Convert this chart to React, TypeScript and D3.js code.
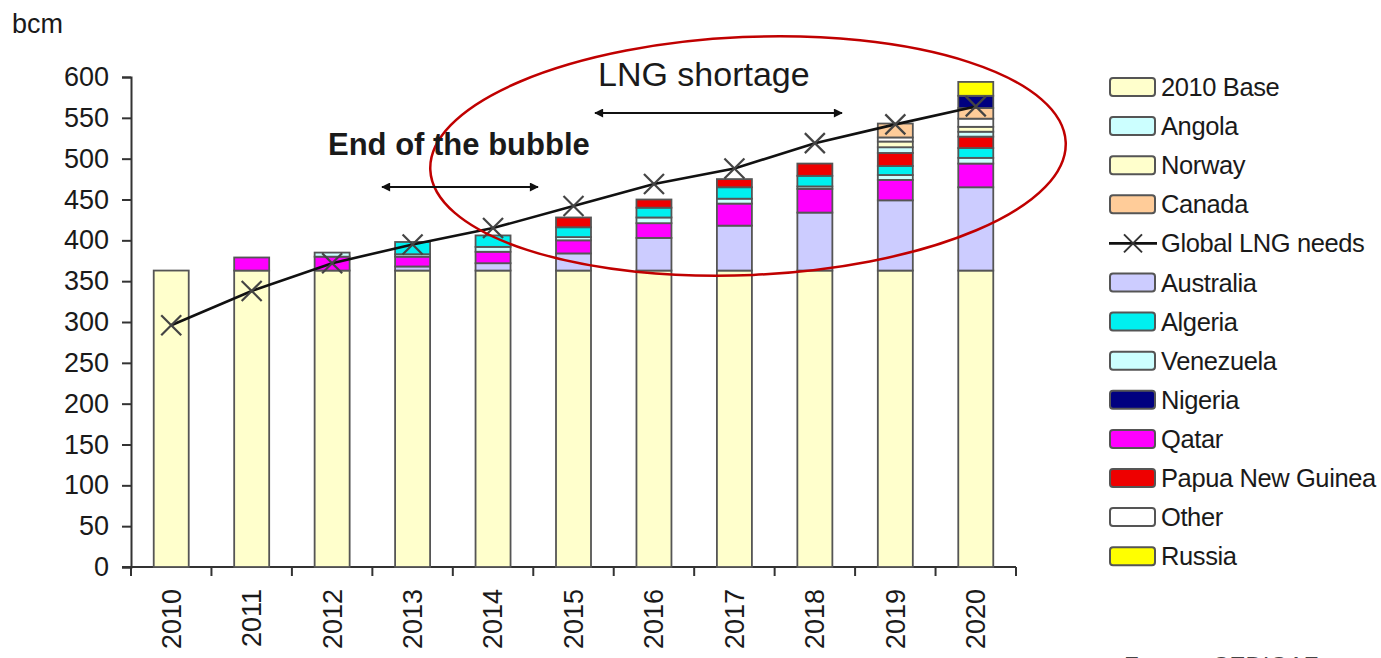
import React, { useEffect, useRef } from 'react';
import * as d3 from 'd3';

const years = ['2010', '2011', '2012', '2013', '2014', '2015', '2016', '2017', '2018', '2019', '2020'];

// stacked supply, bcm (bottom -> top)
const base2010 = [363, 363, 363, 363, 363, 363, 363, 363, 363, 363, 363];
const australia = [0, 0, 0, 5, 9, 21, 40, 55, 71, 86, 102];
const qatar = [0, 16, 17, 12, 14, 16, 18, 27, 29, 25, 29];
const venezuela = [0, 0, 5, 3, 6, 4, 7, 6, 3, 6, 7];
const algeria = [0, 0, 0, 15, 14, 12, 12, 14, 13, 11, 12];
const papua = [0, 0, 0, 0, 0, 12, 10, 10, 15, 16, 14];
const angola = [0, 0, 0, 0, 0, 0, 0, 0, 0, 7, 6];
const norway = [0, 0, 0, 0, 0, 0, 0, 0, 0, 7, 6];
const other = [0, 0, 0, 0, 0, 0, 0, 0, 0, 5, 10];
const canada = [0, 0, 0, 0, 0, 0, 0, 0, 0, 17, 13];
const nigeria = [0, 0, 0, 0, 0, 0, 0, 0, 0, 0, 15];
const russia = [0, 0, 0, 0, 0, 0, 0, 0, 0, 0, 17];

const lngNeeds = [296, 338, 372, 395, 415, 442, 469, 488, 519, 542, 564];

const yTicks = [0, 50, 100, 150, 200, 250, 300, 350, 400, 450, 500, 550, 600];

const series = [
 { name: '2010 Base', values: base2010, color: '#ffffcc' },
 { name: 'Australia', values: australia, color: '#ccccff' },
 { name: 'Qatar', values: qatar, color: '#ff00ff' },
 { name: 'Venezuela', values: venezuela, color: '#ccffff' },
 { name: 'Algeria', values: algeria, color: '#00f0f0' },
 { name: 'Papua New Guinea', values: papua, color: '#ee0000' },
 { name: 'Angola', values: angola, color: '#ccffff' },
 { name: 'Norway', values: norway, color: '#ffffcc' },
 { name: 'Other', values: other, color: '#ffffff' },
 { name: 'Canada', values: canada, color: '#ffcc99' },
 { name: 'Nigeria', values: nigeria, color: '#000080' },
 { name: 'Russia', values: russia, color: '#ffff00' },
];

const legendOrder = ['2010 Base', 'Angola', 'Norway', 'Canada', 'Global LNG needs', 'Australia', 'Algeria', 'Venezuela', 'Nigeria', 'Qatar', 'Papua New Guinea', 'Other', 'Russia'];

const FONT = '"Liberation Sans", Arial, sans-serif';

const drawX = (g: any, cx: number, cy: number, r: number) => {
 g.append('line').attr('x1', cx - r).attr('y1', cy - r).attr('x2', cx + r).attr('y2', cy + r);
 g.append('line').attr('x1', cx - r).attr('y1', cy + r).attr('x2', cx + r).attr('y2', cy - r);
};

export default function App() {
 const svgRef = useRef<SVGSVGElement>(null);

 useEffect(() => {
 if (!svgRef.current) return;
 const svg = d3.select(svgRef.current);
 svg.selectAll('*').remove();

 const x0 = 131;
 const x1 = 1016;
 const x = d3.scaleBand().domain(years).range([x0, x1]).paddingInner(0).paddingOuter(0);
 const y = d3.scaleLinear().domain([0, 600]).range([567, 77]);
 const step = x.bandwidth();
 const bw = step * 0.435;

 const defs = svg.append('defs');
 defs.append('marker')
 .attr('id', 'arr')
 .attr('viewBox', '0 0 10 10')
 .attr('refX', 9).attr('refY', 5)
 .attr('markerWidth', 5).attr('markerHeight', 4.5)
 .attr('orient', 'auto-start-reverse')
 .append('path').attr('d', 'M0,0 L10,5 L0,10 Z').attr('fill', '#111');

 // y axis
 const yAxis = svg.append('g')
 .attr('transform', `translate(${x0},0)`)
 .call(d3.axisLeft(y).tickValues(yTicks).tickSize(9).tickPadding(13).tickFormat(d3.format('d')));
 yAxis.selectAll('path, line').attr('stroke', '#333').attr('stroke-width', 2);
 yAxis.selectAll('text').attr('font-size', 27).attr('font-family', FONT).attr('fill', '#1a1a1a');

 // x axis
 const xg = svg.append('g');
 xg.append('line').attr('x1', x0 - 9).attr('x2', x1).attr('y1', y(0)).attr('y2', y(0)).attr('stroke', '#333').attr('stroke-width', 2);
 xg.selectAll('line.tk').data(d3.range(years.length + 1)).enter().append('line')
 .attr('x1', (i: number) => x0 + i * step).attr('x2', (i: number) => x0 + i * step)
 .attr('y1', y(0)).attr('y2', y(0) + 9).attr('stroke', '#333').attr('stroke-width', 2);
 xg.selectAll('text').data(years).enter().append('text')
 .attr('transform', (d: string) => `translate(${(x(d) as number) + step / 2},589) rotate(-90)`)
 .attr('text-anchor', 'end').attr('dy', '0.35em')
 .attr('font-size', 27).attr('font-family', FONT).attr('fill', '#1a1a1a')
 .text((d: string) => d);

 // stacked bars
 const rows = years.map((yr, i) => {
 const r: any = { year: yr };
 series.forEach(s => { r[s.name] = s.values[i]; });
 return r;
 });
 const stacked = d3.stack().keys(series.map(s => s.name))(rows);
 stacked.forEach((layer: any, li: number) => {
 svg.append('g').selectAll('rect').data(layer.filter((d: any) => d[1] - d[0] > 0)).enter().append('rect')
 .attr('x', (d: any) => (x(d.data.year) as number) + (step - bw) / 2)
 .attr('width', bw)
 .attr('y', (d: any) => y(d[1]))
 .attr('height', (d: any) => y(d[0]) - y(d[1]))
 .attr('fill', series[li].color)
 .attr('stroke', '#555')
 .attr('stroke-width', 1.8);
 });

 // global LNG needs line
 const line = d3.line<number>().x((_d, i) => (x(years[i]) as number) + step / 2).y(d => y(d));
 svg.append('path').datum(lngNeeds).attr('d', line).attr('fill', 'none').attr('stroke', '#111').attr('stroke-width', 2.6);
 const mk = svg.append('g').attr('stroke', '#444').attr('stroke-width', 2.2);
 lngNeeds.forEach((v, i) => drawX(mk, (x(years[i]) as number) + step / 2, y(v), 10));

 // ellipse
 svg.append('ellipse').attr('cx', 748).attr('cy', 156).attr('rx', 318).attr('ry', 119)
 .attr('transform', 'rotate(-2.5 748 156)')
 .attr('fill', 'none').attr('stroke', '#c00000').attr('stroke-width', 2.5);

 // annotations
 svg.append('text').attr('x', 598).attr('y', 86).attr('font-size', 34).attr('font-family', FONT).attr('fill', '#1a1a1a').text('LNG shortage');
 svg.append('line').attr('x1', 595).attr('x2', 842).attr('y1', 113).attr('y2', 113)
 .attr('stroke', '#111').attr('stroke-width', 2).attr('marker-start', 'url(#arr)').attr('marker-end', 'url(#arr)');
 svg.append('text').attr('x', 328).attr('y', 155).attr('font-size', 31).attr('font-weight', 'bold').attr('font-family', FONT).attr('fill', '#1a1a1a').text('End of the bubble');
 svg.append('line').attr('x1', 382).attr('x2', 538).attr('y1', 187).attr('y2', 187)
 .attr('stroke', '#111').attr('stroke-width', 2).attr('marker-start', 'url(#arr)').attr('marker-end', 'url(#arr)');

 svg.append('text').attr('x', 12).attr('y', 33).attr('font-size', 27).attr('font-family', FONT).attr('fill', '#1a1a1a').text('bcm');
 svg.append('text').attr('x', 1124).attr('y', 674).attr('font-size', 24).attr('font-family', FONT).attr('fill', '#444').text('Fuente: CEDIGAZ');

 // legend
 const lg = svg.append('g');
 legendOrder.forEach((name, i) => {
 const cy = 87 + i * 39.1;
 if (name === 'Global LNG needs') {
 lg.append('line').attr('x1', 1109).attr('x2', 1157).attr('y1', cy).attr('y2', cy).attr('stroke', '#111').attr('stroke-width', 2.6);
 const m = lg.append('g').attr('stroke', '#333').attr('stroke-width', 2);
 drawX(m, 1133, cy, 9);
 } else {
 const s = series.find(ss => ss.name === name)!;
 lg.append('rect').attr('x', 1110).attr('y', cy - 9).attr('width', 45).attr('height', 18).attr('rx', 3)
 .attr('fill', s.color).attr('stroke', '#555').attr('stroke-width', 2);
 }
 lg.append('text').attr('x', 1161).attr('y', cy + 9).attr('font-size', 25.5).attr('letter-spacing', -0.4)
 .attr('font-family', FONT).attr('fill', '#1a1a1a').text(name);
 });
 }, []);

 return (
 <svg ref={svgRef} width={1381} height={658} viewBox="0 0 1381 658"
 style={{ position: 'absolute', left: 0, top: 0, background: '#fff' }} />
 );
}
